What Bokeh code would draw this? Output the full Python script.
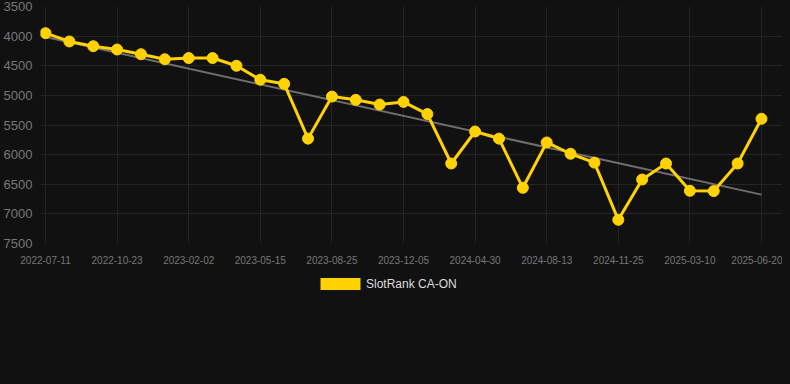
import numpy as np
from bokeh.plotting import figure
from bokeh.layouts import column
from bokeh.models import ColumnDataSource, Range1d, FixedTicker, Legend, LegendItem
from bokeh.embed import file_html
from bokeh.resources import INLINE

# --- data -------------------------------------------------------------
ranks = [3950, 4090, 4170, 4226, 4305, 4390, 4370, 4370, 4500, 4735, 4805,
         5730, 5020, 5075, 5155, 5110, 5315, 6150, 5610, 5730, 6560, 5795,
         5985, 6135, 7100, 6420, 6150, 6610, 6615, 6150, 5395]
tick_labels = ["2022-07-11", "2022-10-23", "2023-02-02", "2023-05-15",
               "2023-08-25", "2023-12-05", "2024-04-30", "2024-08-13",
               "2024-11-25", "2025-03-10", "2025-06-20"]
y_ticks = [3500, 4000, 4500, 5000, 5500, 6000, 6500, 7000, 7500]
series_name = "SlotRank CA-ON"

idx = list(range(len(ranks)))
tick_idx = list(range(0, len(ranks), 3))

coef = np.polyfit(idx, ranks, 1)
trend = [float(np.polyval(coef, i)) for i in (idx[0], idx[-1])]

BG = "#111111"
YEL = "#FFD200"
FONT = "Liberation Sans"

p = figure(width=782, height=270, output_backend="svg",
           toolbar_location=None, background_fill_color=BG,
           border_fill_color=BG, outline_line_color=None,
           x_range=Range1d(-0.21, 30.88), y_range=Range1d(7500, 3500),
           min_border_left=37, min_border_top=6, min_border_right=0,
           min_border_bottom=27)

p.xaxis.ticker = FixedTicker(ticks=tick_idx)
p.xaxis.major_label_overrides = {i: lab for i, lab in zip(tick_idx, tick_labels)}
p.yaxis.ticker = FixedTicker(ticks=y_ticks)

for ax in (p.xaxis[0], p.yaxis[0]):
    ax.axis_line_color = None
    ax.major_tick_line_color = None
    ax.minor_tick_line_color = None
    ax.major_label_text_font = FONT
    ax.major_label_text_color = "#777777"
p.xaxis.major_label_text_font_size = "10px"
p.yaxis.major_label_text_font_size = "13px"
p.xaxis.major_label_standoff = 6
p.yaxis.major_label_standoff = 2

p.xgrid.grid_line_color = "#242424"
p.ygrid.grid_line_color = "#242424"
p.xgrid.ticker = FixedTicker(ticks=tick_idx)
p.ygrid.ticker = FixedTicker(ticks=y_ticks)

p.line([idx[0], idx[-1]], trend, line_color="#6e6e6e", line_width=2)

src = ColumnDataSource(dict(x=idx, y=ranks))
p.line("x", "y", source=src, line_color=YEL, line_width=3)
p.scatter("x", "y", source=src, size=11, fill_color=YEL, line_color=YEL)

# legend strip below the chart (zero-area quads: only the legend swatch shows)
q = figure(width=782, height=98, output_backend="svg", toolbar_location=None,
           x_axis_type=None, y_axis_type=None,
           background_fill_color=BG, border_fill_color=BG,
           outline_line_color=None, min_border=0)
q.grid.visible = False
box = q.quad(left="x", right="x", top="y", bottom="y", source=src,
             fill_color=YEL, line_color=None)
legend = Legend(items=[LegendItem(label=series_name, renderers=[box])],
                location=(269, 71), orientation="horizontal",
                background_fill_alpha=0, border_line_alpha=0,
                label_text_color="#dddddd", label_text_font=FONT,
                label_text_font_size="12px", glyph_width=50, glyph_height=15,
                padding=6, margin=0, label_standoff=1)
q.add_layout(legend, "center")

layout = column(p, q, spacing=0)

html = file_html(layout, INLINE)
html = html.replace("</head>", "<style>html,body{background:#111111;}</style></head>", 1)
open("out.html", "w").write(html)
